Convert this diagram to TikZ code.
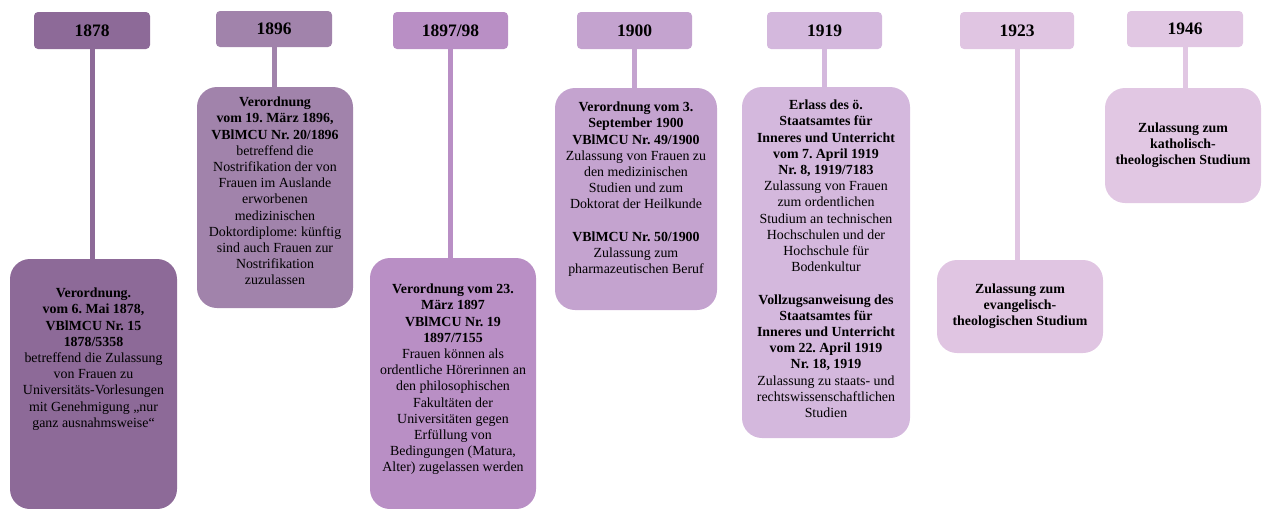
\documentclass[tikz,border=0pt]{standalone}
\usepackage{fontspec}
\setmainfont{Liberation Serif}
\frenchspacing
\usetikzlibrary{positioning}
\definecolor{lilaA}{RGB}{141,106,152}
\definecolor{lilaB}{RGB}{161,131,171}
\definecolor{lilaC}{RGB}{185,143,197}
\definecolor{lilaD}{RGB}{196,163,207}
\definecolor{lilaE}{RGB}{212,184,221}
\definecolor{lilaF}{RGB}{224,197,226}
\definecolor{lilaG}{RGB}{225,199,227}

\begin{document}
\begin{tikzpicture}[x=1pt, y=-1pt,
	yearbox/.style={rounded corners=4pt, minimum width=116pt, minimum height=37pt, inner sep=0pt, font=\bfseries\fontsize{17.5}{20}\selectfont},
	notebox/.style={rounded corners=20pt, inner sep=0pt},
	notetext/.style={align=center, inner sep=0pt, font=\fontsize{13.9}{16.2}\selectfont},
	link/.style={line width=5pt}]
		\useasboundingbox (0,0) rectangle (1262,509);
		\node[yearbox, fill=lilaA] (y1878) at (92,30.5) {1878};
		\node[yearbox, fill=lilaB, minimum height=36pt] (y1896) at (274,29) {\raisebox{-2pt}{1896}};
		\node[yearbox, fill=lilaC, minimum width=115pt] (y1897) at (450.5,30.5) {1897/98};
		\node[yearbox, fill=lilaD, minimum width=115pt] (y1900) at (634.5,30.5) {1900};
		\node[yearbox, fill=lilaE, minimum width=115pt] (y1919) at (824.5,30.5) {1919};
		\node[yearbox, fill=lilaF, minimum width=114pt] (y1923) at (1017,30.5) {1923};
		\node[yearbox, fill=lilaG, minimum height=36pt] (y1946) at (1185,29) {1946};
		\node[notebox, fill=lilaA, minimum width=167pt, minimum height=250pt] (n1878) at (93.5,384) {};
		\node[notebox, fill=lilaB, minimum width=156pt, minimum height=221pt] (n1896) at (275,197.5) {};
		\node[notebox, fill=lilaC, minimum width=166pt, minimum height=251pt] (n1897) at (453,383.5) {};
		\node[notebox, fill=lilaD, minimum width=162pt, minimum height=222pt] (n1900) at (636,199) {};
		\node[notebox, fill=lilaE, minimum width=168pt, minimum height=351pt] (n1919) at (826,262.5) {};
		\node[notebox, fill=lilaF, minimum width=166pt, minimum height=93pt] (n1923) at (1020,306.5) {};
		\node[notebox, fill=lilaG, minimum width=156pt, minimum height=115pt] (n1946) at (1183,145.5) {};
		\draw[link, lilaA] (y1878.south) -- (y1878.south |- n1878.north);
		\draw[link, lilaB] (y1896.south) -- (y1896.south |- n1896.north);
		\draw[link, lilaC] (y1897.south) -- (y1897.south |- n1897.north);
		\draw[link, lilaD] (y1900.south) -- (y1900.south |- n1900.north);
		\draw[link, lilaE] (y1919.south) -- (y1919.south |- n1919.north);
		\draw[link, lilaF] (y1923.south) -- (y1923.south |- n1923.north);
		\draw[link, lilaG] (y1946.south) -- (y1946.south |- n1946.north);
		\node[notetext, below=29pt of n1878.north] (t1878) {\textbf{Verordnung.}\\ \textbf{vom 6. Mai 1878,}\\ \textbf{VBlMCU Nr. 15}\\ \textbf{1878/5358}\\ betreffend die Zulassung\\ von Frauen zu\\ Universitäts-Vorlesungen\\ mit Genehmigung „nur\\ ganz ausnahmsweise“};
		\node[notetext, below=10pt of n1896.north] (t1896) {\textbf{Verordnung}\\ \textbf{vom 19. März 1896,}\\ \textbf{VBlMCU Nr. 20/1896}\\ betreffend die\\ Nostrifikation der von\\ Frauen im Auslande\\ erworbenen\\ medizinischen\\ Doktordiplome: künftig\\ sind auch Frauen zur\\ Nostrifikation\\ zuzulassen};
		\node[notetext, below=26pt of n1897.north] (t1897) {\textbf{Verordnung vom 23.}\\ \textbf{März 1897}\\ \textbf{VBlMCU Nr. 19}\\ \textbf{1897/7155}\\ Frauen können als\\ ordentliche Hörerinnen an\\ den philosophischen\\ Fakultäten der\\ Universitäten gegen\\ Erfüllung von\\ Bedingungen (Matura,\\ Alter) zugelassen werden};
		\node[notetext, below=14pt of n1900.north] (t1900) {\textbf{Verordnung vom 3.}\\ \textbf{September 1900}\\ \textbf{VBlMCU Nr. 49/1900}\\ Zulassung von Frauen zu\\ den medizinischen\\ Studien und zum\\ Doktorat der Heilkunde\\[16.2pt] \textbf{VBlMCU Nr. 50/1900}\\ Zulassung zum\\ pharmazeutischen Beruf};
		\node[notetext, below=13pt of n1919.north] (t1919) {\textbf{Erlass des ö.}\\ \textbf{Staatsamtes für}\\ \textbf{Inneres und Unterricht}\\ \textbf{vom 7. April 1919}\\ \textbf{Nr. 8, 1919/7183}\\ Zulassung von Frauen\\ zum ordentlichen\\ Studium an technischen\\ Hochschulen und der\\ Hochschule für\\ Bodenkultur\\[16.2pt] \textbf{Vollzugsanweisung des}\\ \textbf{Staatsamtes für}\\ \textbf{Inneres und Unterricht}\\ \textbf{vom 22. April 1919}\\ \textbf{Nr. 18, 1919}\\ Zulassung zu staats- und\\ rechtswissenschaftlichen\\ Studien};
		\node[notetext, font=\bfseries\fontsize{13.9}{16.2}\selectfont] (t1923) at (n1923) {Zulassung zum\\ evangelisch-\\ theologischen Studium};
		\node[notetext, font=\bfseries\fontsize{13.9}{16.2}\selectfont] (t1946) at (n1946) {Zulassung zum\\ katholisch-\\ theologischen Studium};
\end{tikzpicture}
\end{document}
